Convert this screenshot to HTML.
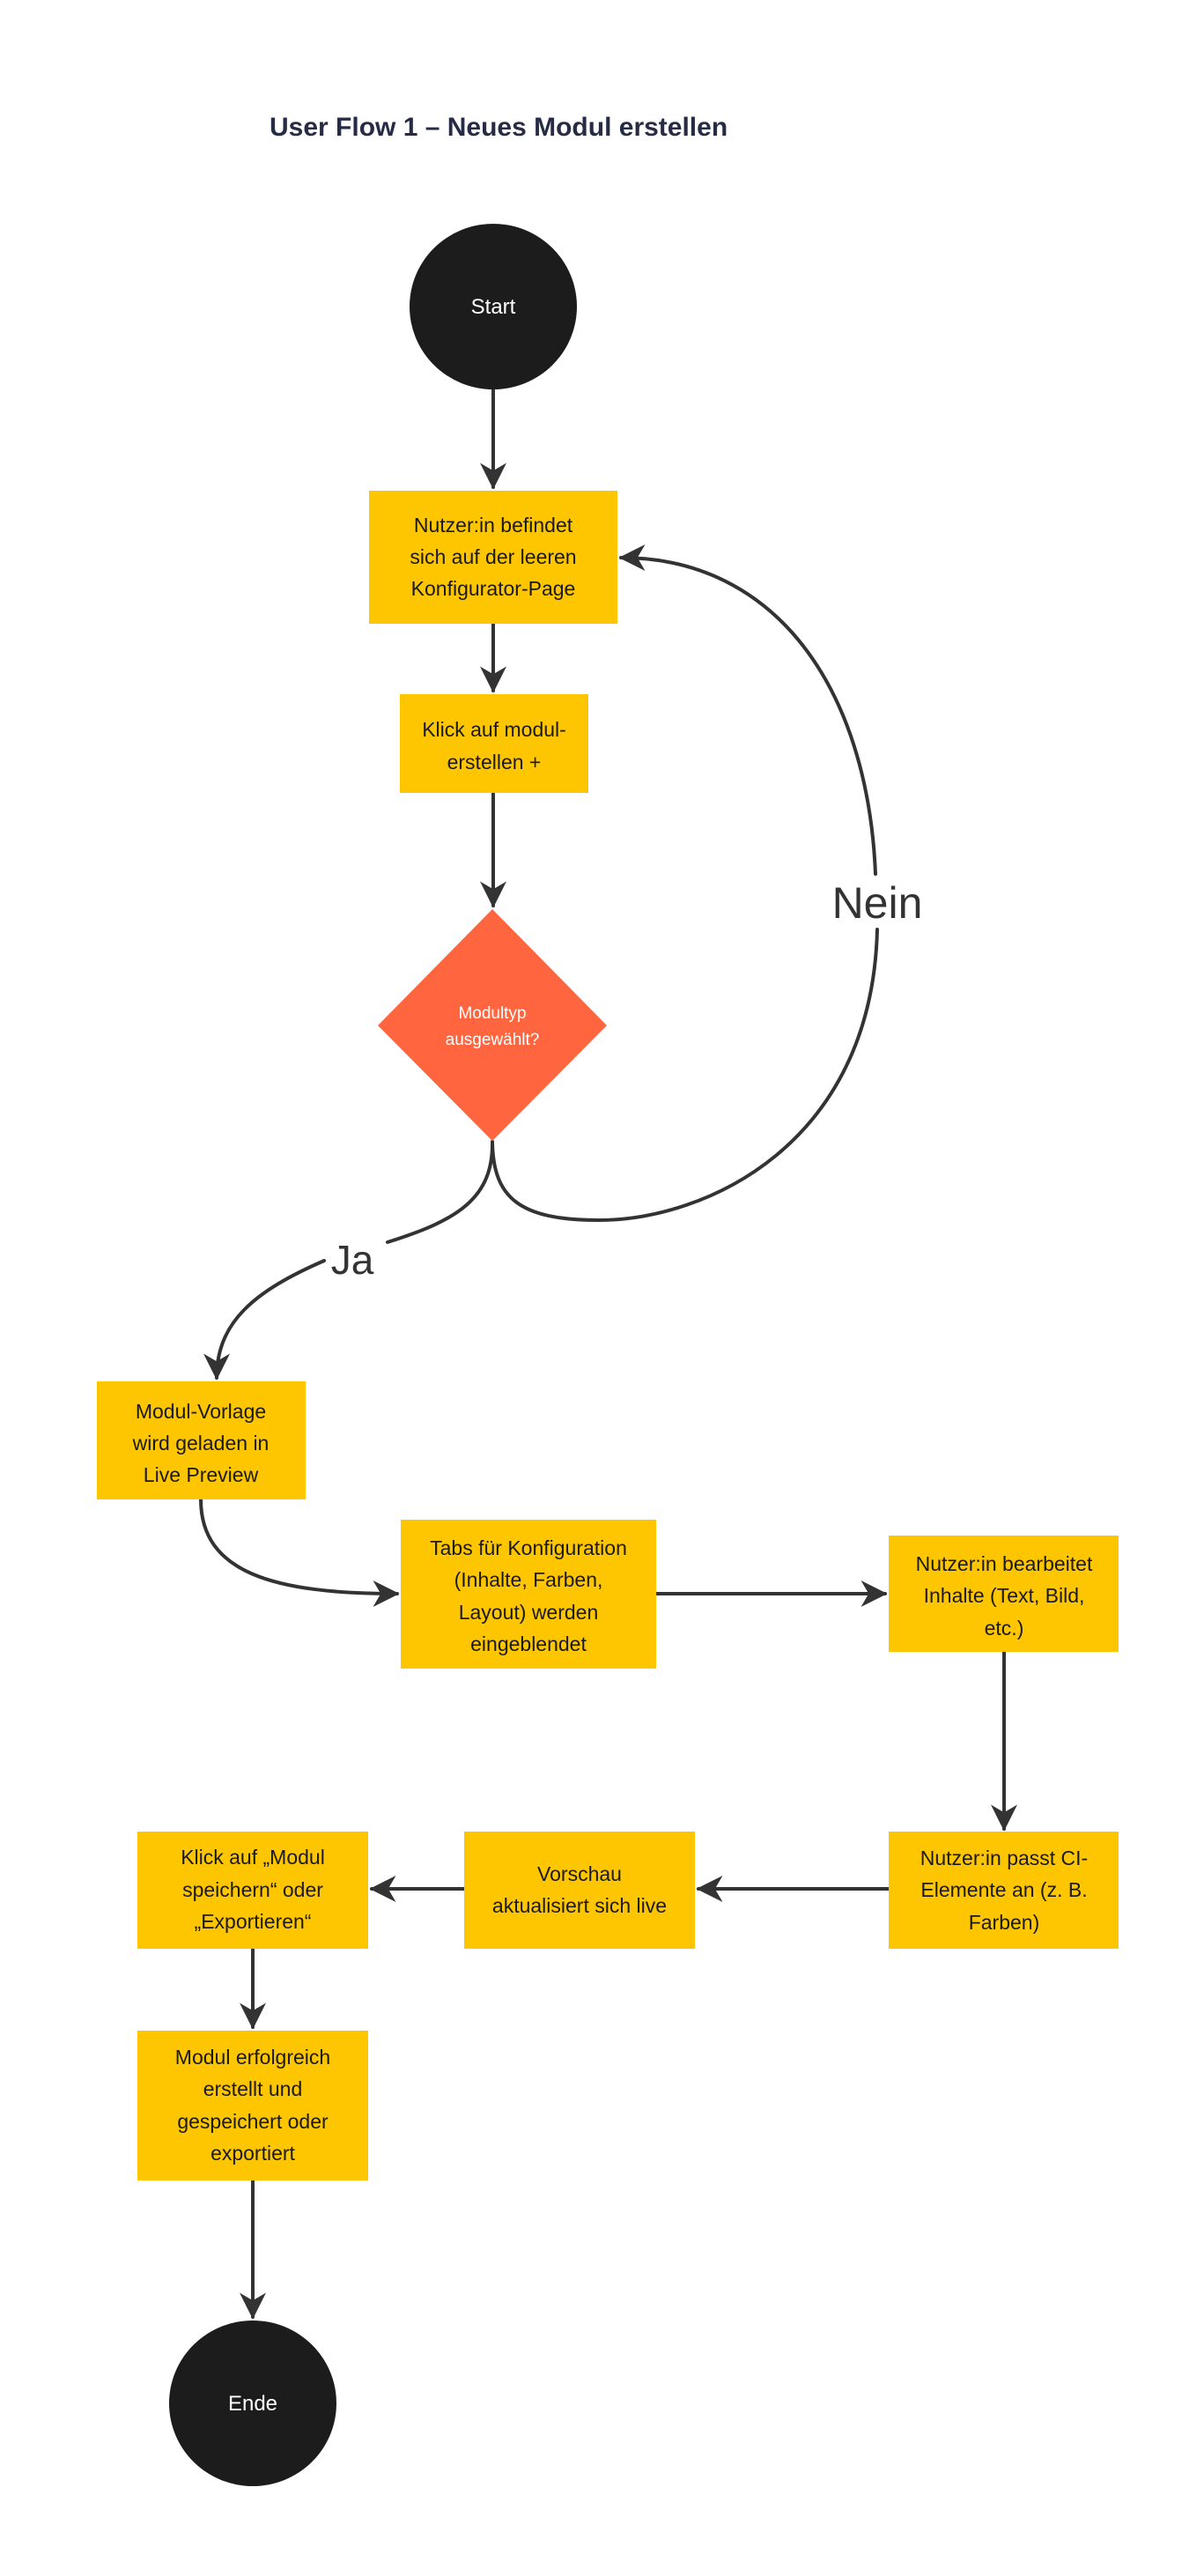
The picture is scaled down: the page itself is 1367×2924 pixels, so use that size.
<!DOCTYPE html>
<html><head><meta charset="utf-8"><style>
html,body{margin:0;padding:0;background:#fff;}
svg{display:block;}
text{font-family:"Liberation Sans",sans-serif;}
</style></head><body>
<svg width="1367" height="2924" viewBox="0 0 1367 2924" xmlns="http://www.w3.org/2000/svg">
<defs>
<marker id="a" viewBox="0 0 12 12" refX="11" refY="6" markerWidth="7.5" markerHeight="7.5" orient="auto" markerUnits="strokeWidth">
<path d="M0,0 L12,6 L0,12 L3.5,6 z" fill="#333"/>
</marker>
</defs>
<rect width="1367" height="2924" fill="#fff"/>
<text x="306" y="154" font-size="30" font-weight="bold" fill="#262c45">User Flow 1 – Neues Modul erstellen</text>

<g stroke="#333" stroke-width="4" fill="none" stroke-linecap="round">
<line x1="560" y1="442" x2="560" y2="553" marker-end="url(#a)"/>
<line x1="560" y1="708" x2="560" y2="784" marker-end="url(#a)"/>
<line x1="560" y1="900" x2="560" y2="1028" marker-end="url(#a)"/>
<path d="M559,1296 C560,1360 590,1385 680,1385 C800,1385 990,1300 996,1055"/>
<path d="M994,992 C985,780 880,633 705,633" marker-end="url(#a)"/>
<path d="M559,1296 C560,1360 520,1385 440,1410"/>
<path d="M368,1431 C290,1465 246,1500 246,1564" marker-end="url(#a)"/>
<path d="M228,1702 C228,1785 310,1809 451,1809" marker-end="url(#a)"/>
<line x1="745" y1="1809" x2="1005" y2="1809" marker-end="url(#a)"/>
<line x1="1140" y1="1875" x2="1140" y2="2076" marker-end="url(#a)"/>
<line x1="1009" y1="2144" x2="793" y2="2144" marker-end="url(#a)"/>
<line x1="527" y1="2144" x2="422" y2="2144" marker-end="url(#a)"/>
<line x1="287" y1="2211" x2="287" y2="2301" marker-end="url(#a)"/>
<line x1="287" y1="2475" x2="287" y2="2630" marker-end="url(#a)"/>
</g>
<text x="996" y="1042" font-size="50" fill="#333" text-anchor="middle">Nein</text>
<text x="400" y="1446" font-size="46" fill="#333" text-anchor="middle">Ja</text>

<ellipse cx="560" cy="348" rx="95" ry="94" fill="#1c1c1c"/>
<text x="560" y="356" font-size="24" fill="#fff" text-anchor="middle">Start</text>

<polygon points="559,1032 689,1164 559,1295 429,1164" fill="#ff6640"/>
<text font-size="19" fill="#fff" text-anchor="middle"><tspan x="559" y="1156">Modultyp</tspan><tspan x="559" y="1186">ausgewählt?</tspan></text>

<g fill="#fec600">
<rect x="419" y="557" width="282" height="151"/>
<rect x="454" y="788" width="214" height="112"/>
<rect x="110" y="1568" width="237" height="134"/>
<rect x="455" y="1725" width="290" height="169"/>
<rect x="1009" y="1743" width="261" height="132"/>
<rect x="1009" y="2079" width="261" height="133"/>
<rect x="527" y="2079" width="262" height="133"/>
<rect x="156" y="2079" width="262" height="133"/>
<rect x="156" y="2305" width="262" height="170"/>
</g>
<g font-size="23" fill="#1a1a1a" text-anchor="middle">
<text><tspan x="560" y="604">Nutzer:in befindet</tspan><tspan x="560" y="640">sich auf der leeren</tspan><tspan x="560" y="676">Konfigurator-Page</tspan></text>
<text><tspan x="561" y="836">Klick auf modul-</tspan><tspan x="561" y="873">erstellen +</tspan></text>
<text><tspan x="228" y="1610">Modul-Vorlage</tspan><tspan x="228" y="1646">wird geladen in</tspan><tspan x="228" y="1682">Live Preview</tspan></text>
<text><tspan x="600" y="1765">Tabs für Konfiguration</tspan><tspan x="600" y="1801">(Inhalte, Farben,</tspan><tspan x="600" y="1838">Layout) werden</tspan><tspan x="600" y="1874">eingeblendet</tspan></text>
<text><tspan x="1140" y="1783">Nutzer:in bearbeitet</tspan><tspan x="1140" y="1819">Inhalte (Text, Bild,</tspan><tspan x="1140" y="1856">etc.)</tspan></text>
<text><tspan x="1140" y="2117">Nutzer:in passt CI-</tspan><tspan x="1140" y="2153">Elemente an (z. B.</tspan><tspan x="1140" y="2190">Farben)</tspan></text>
<text><tspan x="658" y="2135">Vorschau</tspan><tspan x="658" y="2171">aktualisiert sich live</tspan></text>
<text><tspan x="287" y="2116">Klick auf „Modul</tspan><tspan x="287" y="2153">speichern“ oder</tspan><tspan x="287" y="2189">„Exportieren“</tspan></text>
<text><tspan x="287" y="2343">Modul erfolgreich</tspan><tspan x="287" y="2379">erstellt und</tspan><tspan x="287" y="2416">gespeichert oder</tspan><tspan x="287" y="2452">exportiert</tspan></text>
</g>

<ellipse cx="287" cy="2728" rx="95" ry="94" fill="#1c1c1c"/>
<text x="287" y="2736" font-size="24" fill="#fff" text-anchor="middle">Ende</text>
</svg>
</body></html>
